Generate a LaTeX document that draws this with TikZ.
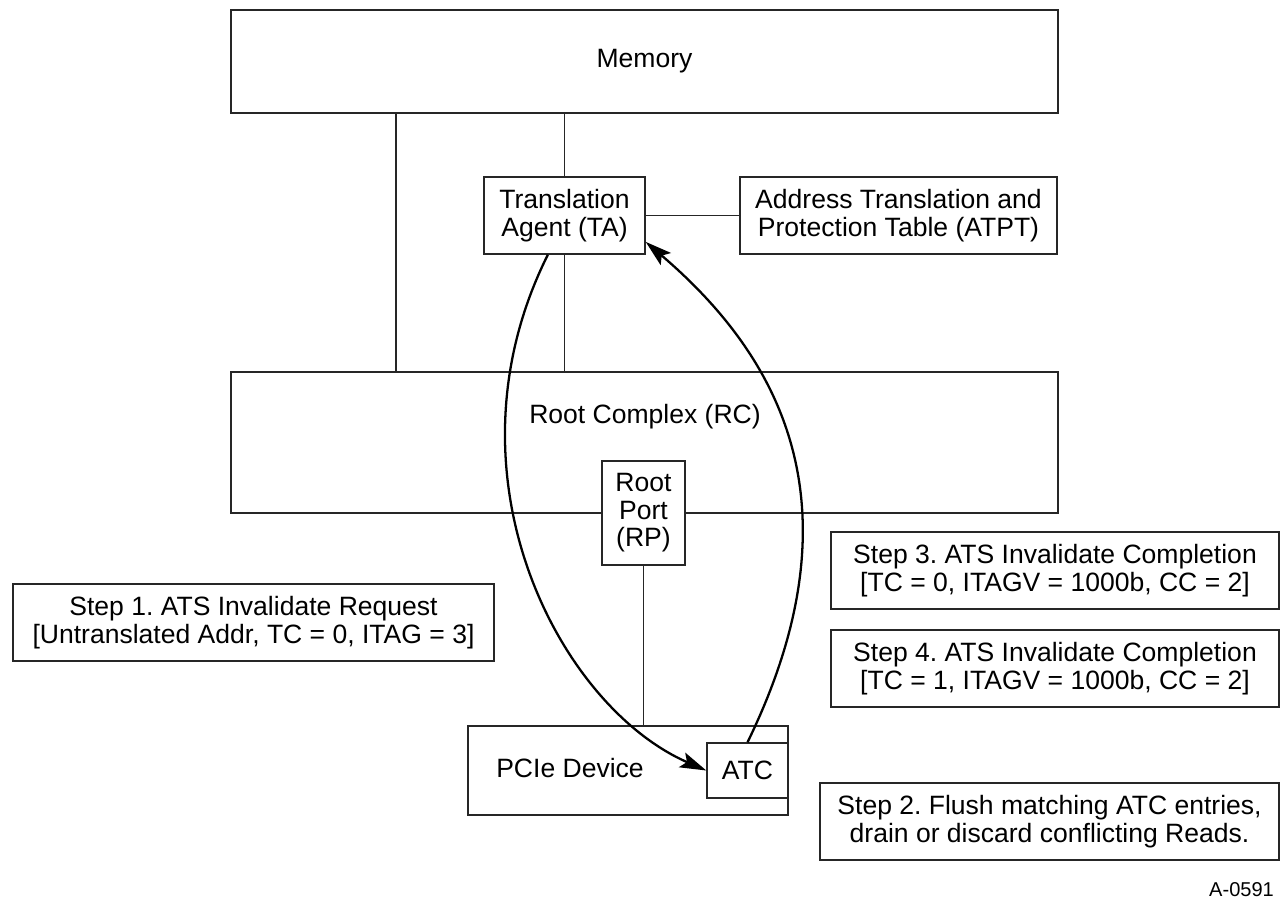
\documentclass[tikz,border=0pt]{standalone}
\usepackage{fontspec}
\setmainfont{Liberation Sans}
\usepackage{tikz}
\usetikzlibrary{arrows.meta,calc}
\frenchspacing

\begin{document}
\begin{tikzpicture}[
    x=0.02cm, y=-0.02cm,
    every node/.style={font=\fontsize{15.1}{15.6}\selectfont},
    box/.style={draw=black!85, line width=0.8pt, fill=white, align=center, inner sep=0pt},
    link/.style={draw=black!85, line width=0.8pt},
    msg/.style={line width=1.3pt, -{Stealth[length=15pt, width=9pt, inset=3pt]}}
]
\useasboundingbox (0,0) rectangle (1280,898);

% Memory and Root Complex
\node[box, minimum width=16.54cm, minimum height=2.06cm] (mem) at (644.5,61.5) {Memory};
\node[box, minimum width=16.54cm, minimum height=2.82cm] (rc) at (644.5,442.5) {};
\node (rctxt) at (645,417) {Root Complex (RC)};

% Translation Agent
\node[box, minimum width=3.22cm, minimum height=1.54cm] (ta) at (564.5,215.5) {Translation\\Agent (TA)};
\node[box, minimum width=6.34cm, minimum height=1.54cm] (atpt) at (898.5,215.5) {Address Translation and\\Protection Table (ATPT)};

% Root Port and device
\node[box, minimum width=1.66cm, minimum height=2.08cm] (rp) at (643.5,513) {Root\\Port\\(RP)};
\node[box, minimum width=6.4cm, minimum height=1.78cm] (pcie) at (628,770.5) {};
\node (pcietxt) at (570,768) {PCIe Device};
\node[box, minimum width=1.62cm, minimum height=1.1cm] (atc) at (747.5,770.5) {ATC};

% Steps
\node[box, minimum width=9.62cm, minimum height=1.54cm] (step1) at (253.5,622.5) {Step 1. ATS Invalidate Request\\{}[Untranslated Addr, TC = 0, ITAG = 3]};
\node[box, minimum width=8.96cm, minimum height=1.54cm] (step3) at (1055,570.5) {Step 3. ATS Invalidate Completion\\{}[TC = 0, ITAGV = 1000b, CC = 2]};
\node[box, minimum width=8.96cm, minimum height=1.54cm] (step4) at (1055,668.5) {Step 4. ATS Invalidate Completion\\{}[TC = 1, ITAGV = 1000b, CC = 2]};
\node[box, minimum width=9.18cm, minimum height=1.54cm] (step2) at (1049.5,821.5) {Step 2. Flush matching ATC entries,\\drain or discard conflicting Reads.};
\node[anchor=base east, font=\fontsize{11.4}{12}\selectfont] (figid) at (1280,896) {A-0591};

% Links
\coordinate (busx) at (396,0);
\draw[link] (mem.south -| busx) -- (rc.north -| busx);
\draw[link] (mem.south -| ta.north) -- (ta.north);
\draw[link] (ta.south) -- (rc.north -| ta.south);
\draw[link] (ta.east) -- (atpt.west);
\draw[link] (rp.south) -- (pcie.north -| rp.south);

% Messages
\draw[msg] (ta.-113) .. controls +(-110,220) and +(-147,-64) .. (atc.west);
\draw[msg] (atc.north) .. controls +(114,-234) and +(137,117) .. (ta.-18);
\end{tikzpicture}
\end{document}
